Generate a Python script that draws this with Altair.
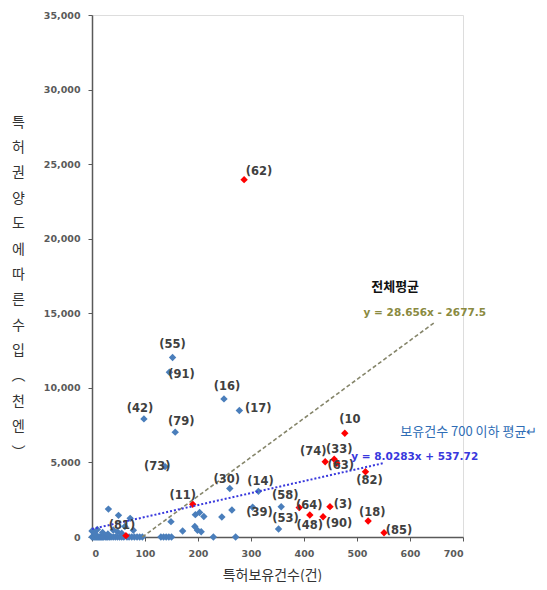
import altair as alt
import pandas as pd

# ---------------- data ----------------
# unlabeled blue points (patents held, income in 1000 yen)
blue_x = [0, 2, 4, 6, 8, 10, 12, 14, 16, 18, 20, 22, 25, 28, 30, 33, 36, 40, 44, 48,
          52, 56, 60, 66, 70, 75, 80, 85, 90, 95, 130, 135, 140, 145, 150, 229, 271,
          0, 5, 10, 20, 30, 40, 48, 56, 62, 78,
          31, 50, 72, 149, 171, 194, 199, 206, 195, 203, 211, 245, 264]
blue_y = [0, 0, 0, 0, 0, 0, 0, 0, 0, 0, 0, 0, 0, 0, 0, 0, 0, 0, 0, 0,
          0, 0, 0, 0, 0, 0, 0, 0, 0, 0, 0, 0, 0, 0, 0, 0, 0,
          400, 250, 500, 300, 200, 470, 350, 250, 700, 450,
          1870, 1450, 1250, 1030, 400, 700, 450, 350, 1500, 1640, 1380, 1340, 1810]

# labeled blue points
blue_lab = ["(55)", "(91)", "(16)", "(17)", "(42)", "(79)", "(73)", "(30)", "(14)", "(58)", "(53)", "(39)"]
blue_lab_x = [152, 146, 249, 278, 98, 157, 138, 260, 314, 357, 352, 303]
blue_lab_y = [12030, 11050, 9260, 8480, 7920, 7030, 4720, 3250, 3060, 2030, 540, 2000]

# labeled red points
red_lab = ["(62)", "(11)", "(81)", "(10", "(74)", "(33)", "(63)", "(82)", "(64)", "(3)", "(48)", "(90)", "(18)", "(85)"]
red_x = [287, 190, 64, 477, 440, 457, 462, 516, 391, 449, 411, 436, 521, 551]
red_y = [23960, 2195, 90, 6960, 5050, 5215, 4945, 4380, 1970, 2035, 1475, 1360, 1075, 290]

# trend lines (end points)
all_trend_x = [95, 645]
all_trend_y = [0, 14350]
sub_trend_x = [0, 550]
sub_trend_y = [538, 4953]

x_ticks = [0, 100, 200, 300, 400, 500, 600, 700]
y_ticks = [0, 5000, 10000, 15000, 20000, 25000, 30000, 35000]

y_title_chars = ["특", "허", "권", "양", "도", "에", "따", "른", "수", "입", "︵", "천", "엔", "︶"]
x_title = "특허보유건수(건)"

# label placement (pixel offsets of label centre from point)
LABEL_OFFSETS = {
    "(55)": (0, -13), "(91)": (12, 3), "(16)": (3, -12), "(17)": (19, -2),
    "(42)": (-4, -10), "(79)": (6, -10), "(73)": (-8, 0), "(30)": (-3, -9),
    "(14)": (2, -9), "(58)": (4, -11), "(53)": (7, -10), "(39)": (7, 6),
    "(62)": (15, -8), "(11)": (-10, -8), "(81)": (-4, -10), "(10": (5, -13),
    "(74)": (-12, -10), "(33)": (5, -9), "(63)": (4, 3), "(82)": (4, 9),
    "(64)": (10, -2), "(3)": (13, -2), "(48)": (0, 11), "(90)": (16, 7),
    "(18)": (4, -8), "(85)": (15, -2),
}

W, H = 371, 522
XMAX, YMAX = 700, 35000

# ---------------- tables ----------------
blue_df = pd.DataFrame({"x": blue_x + blue_lab_x, "y": blue_y + blue_lab_y})
red_df = pd.DataFrame({"x": red_x, "y": red_y})

lab_names = blue_lab + red_lab
lab_x = blue_lab_x + red_x
lab_y = blue_lab_y + red_y
lab_df = pd.DataFrame({
    "label": lab_names,
    "lx": [x + LABEL_OFFSETS[n][0] * XMAX / W for n, x in zip(lab_names, lab_x)],
    "ly": [y - LABEL_OFFSETS[n][1] * YMAX / H for n, y in zip(lab_names, lab_y)],
})

all_df = pd.DataFrame({"x": all_trend_x, "y": all_trend_y})
sub_df = pd.DataFrame({"x": sub_trend_x, "y": sub_trend_y})

ann_df = pd.DataFrame({
    "t": ["전체평균", "y = 28.656x - 2677.5", "보유건수 700 이하 평균↵", "y = 8.0283x + 537.72"],
    "x": [572, 628, 711, 609],
    "y": [16770, 15000, 7050, 5345],
})

xs = alt.Scale(domain=[0, XMAX], nice=False)
ys = alt.Scale(domain=[0, YMAX], nice=False)

x_axis = alt.Axis(values=x_ticks, grid=False, tickSize=4, tickColor="#595959",
                  domainColor="#595959", domainWidth=1.5, labelColor="#5a5a5a",
                  labelFont="DejaVu Sans", labelFontSize=9.5, labelFontWeight="bold",
                  labelPadding=7, format=",.0f",
                  title=x_title, titleFont="Noto Sans CJK KR", titleFontSize=14,
                  titleFontWeight="normal", titleColor="#333333",
                  titleBaseline="top", titleY=31, titleX=180)
y_axis = alt.Axis(values=y_ticks, grid=False, tickSize=4, tickColor="#595959", format=",.0f",
                  domainColor="#595959", domainWidth=1.5, labelColor="#5a5a5a",
                  labelFont="DejaVu Sans", labelFontSize=9.5, labelFontWeight="bold",
                  labelPadding=8,
                  title=y_title_chars, titleAngle=0, titleFont="Noto Sans CJK KR",
                  titleFontSize=14, titleFontWeight="normal", titleColor="#333333",
                  titleLineHeight=25.4, titleAlign="center", titleBaseline="top",
                  titleX=-74, titleY=100)

blue = alt.Chart(blue_df).mark_point(shape="diamond", filled=True, size=55,
                                     color="#4a7ebb", opacity=1).encode(
    x=alt.X("x:Q", scale=xs, axis=x_axis),
    y=alt.Y("y:Q", scale=ys, axis=y_axis),
)
red = alt.Chart(red_df).mark_point(shape="diamond", filled=True, size=55,
                                   color="#ff0000", opacity=1).encode(
    x=alt.X("x:Q", scale=xs), y=alt.Y("y:Q", scale=ys))

all_line = alt.Chart(all_df).mark_line(color="#85856a", strokeWidth=1.6,
                                       strokeDash=[4, 2.5]).encode(
    x=alt.X("x:Q", scale=xs), y=alt.Y("y:Q", scale=ys))
sub_line = alt.Chart(sub_df).mark_line(color="#3838dd", strokeWidth=2,
                                       strokeDash=[2, 2]).encode(
    x=alt.X("x:Q", scale=xs), y=alt.Y("y:Q", scale=ys))

labels = alt.Chart(lab_df).mark_text(font="DejaVu Sans", fontSize=11.5, fontWeight="bold",
                                     color="#404040", align="center",
                                     baseline="middle").encode(
    x=alt.X("lx:Q", scale=xs), y=alt.Y("ly:Q", scale=ys), text="label:N")

ann_styles = [
    ("전체평균", dict(font="Noto Sans CJK KR", fontSize=13, fontWeight="bold", color="#111111")),
    ("y = 28.656x - 2677.5", dict(font="DejaVu Sans", fontSize=10.5, fontWeight="bold", color="#8a8a40")),
    ("보유건수 700 이하 평균↵", dict(font="Noto Sans CJK KR", fontSize=13, fontWeight="normal", color="#2f6db5")),
    ("y = 8.0283x + 537.72", dict(font="DejaVu Sans", fontSize=10.5, fontWeight="bold", color="#3838dd")),
]
ann_layers = []
for t, st in ann_styles:
    ann_layers.append(
        alt.Chart(ann_df).transform_filter(alt.datum.t == t).mark_text(
            align="center", baseline="middle", **st).encode(
            x=alt.X("x:Q", scale=xs), y=alt.Y("y:Q", scale=ys), text="t:N"))

chart = alt.layer(blue, red, all_line, sub_line, labels, *ann_layers).properties(
    width=W, height=H,
    autosize=alt.AutoSizeParams(type="none"),
    padding={"left": 84, "top": 7, "right": 76, "bottom": 45},
).configure_view(stroke=None).configure(background="white")

chart.save("out.html", embed_options={"renderer": "svg", "actions": False})
